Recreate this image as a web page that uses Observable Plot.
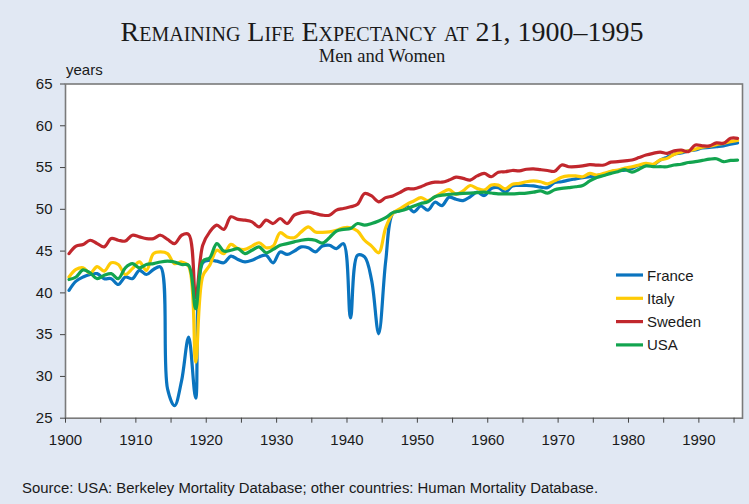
<!DOCTYPE html>
<html>
<head>
<meta charset="utf-8">
<script src="https://cdn.jsdelivr.net/npm/d3@7"></script>
<script src="https://cdn.jsdelivr.net/npm/@observablehq/plot@0.6"></script>
<style>
  html, body { margin: 0; padding: 0; background: #E1E8F3; }
  #chart { width: 749px; height: 504px; position: relative; background: #E1E8F3; }
</style>
</head>
<body>
<div id="chart"></div>
<script>
const countries = ["France", "Italy", "Sweden", "USA"];
const colors = ["#0A74BF", "#FFCB05", "#C1272D", "#12A44F"];
const years = d3.range(1900, 1996);
const xTicks = d3.range(1900, 1996, 5);
const yTicks = [25, 30, 35, 40, 45, 50, 55, 60, 65];

const france = [40.3,41.4,41.9,42.2,42.3,41.7,41.7,41.0,41.9,41.7,
  42.7,42.2,42.8,43.1,28.5,26.5,29.5,34.7,27.4,43.6,
  43.9,43.8,43.6,44.4,44.0,43.7,43.9,44.3,44.5,43.6,
  44.9,44.6,45.0,45.5,45.4,44.9,45.6,45.7,45.3,45.9,
  37.0,44.5,44.3,41.5,35.1,43.8,49.5,49.85,50.4,49.7,
  50.4,49.9,50.85,50.45,51.45,51.2,51.05,51.5,52.05,51.65,
  52.5,52.6,52.05,52.8,52.85,52.85,52.8,52.65,52.6,53.2,
  53.3,53.5,53.65,53.8,53.9,54.05,54.2,54.5,54.65,54.7,
  54.9,55.25,55.3,55.3,55.9,56.25,56.6,56.75,57.0,57.1,
  57.35,57.4,57.5,57.6,57.8,57.95];
const italy = [41.9,42.8,43.0,42.35,43.15,42.6,43.6,43.4,42.2,42.9,
  43.7,42.7,44.7,44.9,44.7,43.5,43.7,43.2,31.7,42.0,
  43.3,45.1,44.7,45.8,45.3,45.2,45.6,46.0,45.4,45.6,
  47.2,46.7,46.6,47.3,47.9,47.3,47.25,47.3,47.5,47.8,
  47.8,47.4,46.3,45.6,44.8,47.8,49.5,50.05,50.6,51.0,
  51.4,51.05,51.5,52.0,52.35,51.8,52.2,52.85,52.5,52.3,
  52.9,52.9,52.45,53.0,53.1,53.3,53.4,53.3,53.05,53.4,
  53.85,54.0,54.0,53.9,54.3,54.1,54.3,54.55,54.7,54.95,
  55.1,55.3,55.5,55.4,55.9,56.1,56.6,56.85,57.0,57.2,
  57.45,57.55,57.75,57.9,58.1,58.25];
const sweden = [44.7,45.6,45.8,46.3,45.9,45.5,46.5,46.3,46.2,46.9,
  46.7,46.5,46.5,46.9,46.4,45.9,46.9,47.0,39.4,45.7,
  47.3,48.1,47.6,49.1,48.8,48.7,48.5,47.9,48.7,48.3,
  48.9,48.3,49.3,49.6,49.7,49.5,49.3,49.3,49.9,50.1,
  50.3,50.6,51.9,51.6,50.9,51.4,51.6,52.0,52.45,52.45,
  52.7,53.05,53.25,53.25,53.5,53.85,53.7,53.5,54.0,54.3,
  53.9,54.45,54.5,54.65,54.6,54.8,54.85,54.75,54.65,54.55,
  55.3,55.1,55.1,55.2,55.35,55.3,55.3,55.65,55.7,55.8,
  55.9,56.2,56.5,56.7,56.85,56.7,57.0,57.1,56.9,57.7,
  57.6,57.6,57.95,57.9,58.5,58.5];
const usa = [41.6,41.9,42.75,42.4,41.7,42.1,42.3,41.7,43.0,43.5,
  43.0,43.4,43.5,43.7,43.8,43.7,43.4,43.3,38.1,43.8,
  44.2,45.9,45.0,45.1,45.3,44.7,45.1,45.5,44.8,45.2,
  45.7,45.9,46.1,46.3,46.4,46.3,45.95,46.6,47.4,47.6,
  47.7,48.3,48.1,48.3,48.6,49.0,49.6,49.8,50.05,50.4,
  50.7,50.9,51.5,51.7,51.8,51.85,51.9,51.95,52.0,52.05,
  51.95,51.85,51.85,51.85,51.9,51.95,52.05,52.2,51.95,52.35,
  52.5,52.6,52.7,52.85,53.4,53.8,54.05,54.3,54.5,54.75,
  54.45,54.8,55.2,55.1,55.1,55.1,55.3,55.4,55.6,55.7,
  55.85,56.0,56.05,55.7,55.85,55.9];

const seriesValues = [france, italy, sweden, usa];
const data = [];
countries.forEach((c, i) => {
  seriesValues[i].forEach((v, j) => data.push({country: c, year: years[j], value: v}));
});

const plot = Plot.plot({
  width: 749,
  height: 504,
  marginLeft: 65,
  marginRight: 7,
  marginTop: 83.5,
  marginBottom: 86.3,
  style: {background: "transparent", fontFamily: "'Liberation Sans', Arial, sans-serif", fontSize: "15px", color: "#1a1a1a"},
  x: {domain: [1900, 1996.2], label: null},
  y: {domain: [25, 65], label: null},
  color: {domain: countries, range: colors},
  marks: [
    Plot.frame({fill: "white", stroke: null}),
    Plot.lineY(data, {x: d => d.year + 0.5, y: "value", stroke: "country", strokeWidth: 3.2, curve: "catmull-rom"}),
    Plot.frame({stroke: "#7a7a7a", strokeWidth: 1.6}),
    Plot.axisX({ticks: xTicks, tickSize: 5, tickPadding: 11, tickFormat: d => d % 10 === 0 ? String(d) : "", stroke: "#444", fill: "#1a1a1a"}),
    Plot.axisY({ticks: yTicks, tickSize: 5, tickPadding: 8, stroke: "#444", fill: "#1a1a1a"})
  ]
});

document.getElementById("chart").appendChild(plot);
const svg = d3.select(plot);

svg.append("text")
  .attr("x", 382).attr("y", 41)
  .attr("text-anchor", "middle")
  .style("font-family", "'Liberation Serif', 'Times New Roman', serif")
  .style("font-size", "28px")
  .style("font-variant", "small-caps")
  .attr("fill", "#1a1a1a")
  .text("Remaining Life Expectancy at 21, 1900–1995");

svg.append("text")
  .attr("x", 382).attr("y", 62)
  .attr("text-anchor", "middle")
  .style("font-family", "'Liberation Serif', 'Times New Roman', serif")
  .style("font-size", "18.5px")
  .attr("fill", "#1a1a1a")
  .text("Men and Women");

svg.append("text")
  .attr("x", 66).attr("y", 75)
  .attr("text-anchor", "start")
  .style("font-family", "'Liberation Sans', Arial, sans-serif")
  .style("font-size", "15px")
  .attr("fill", "#1a1a1a")
  .text("years");

svg.append("text")
  .attr("x", 22).attr("y", 493)
  .attr("text-anchor", "start")
  .style("font-family", "'Liberation Sans', Arial, sans-serif")
  .style("font-size", "14.9px")
  .attr("fill", "#1a1a1a")
  .text("Source: USA: Berkeley Mortality Database; other countries: Human Mortality Database.");

const lg = svg.append("g").attr("text-anchor", "start");
countries.forEach((c, i) => {
  const y = 275 + i * 23.3;
  lg.append("line").attr("x1", 616).attr("x2", 643).attr("y1", y).attr("y2", y)
    .attr("stroke", colors[i]).attr("stroke-width", 3.2);
  lg.append("text").attr("x", 647).attr("y", y + 5.5)
    .attr("text-anchor", "start")
    .style("font-family", "'Liberation Sans', Arial, sans-serif")
    .style("font-size", "15px").attr("fill", "#1a1a1a").text(c);
});
</script>
</body>
</html>
